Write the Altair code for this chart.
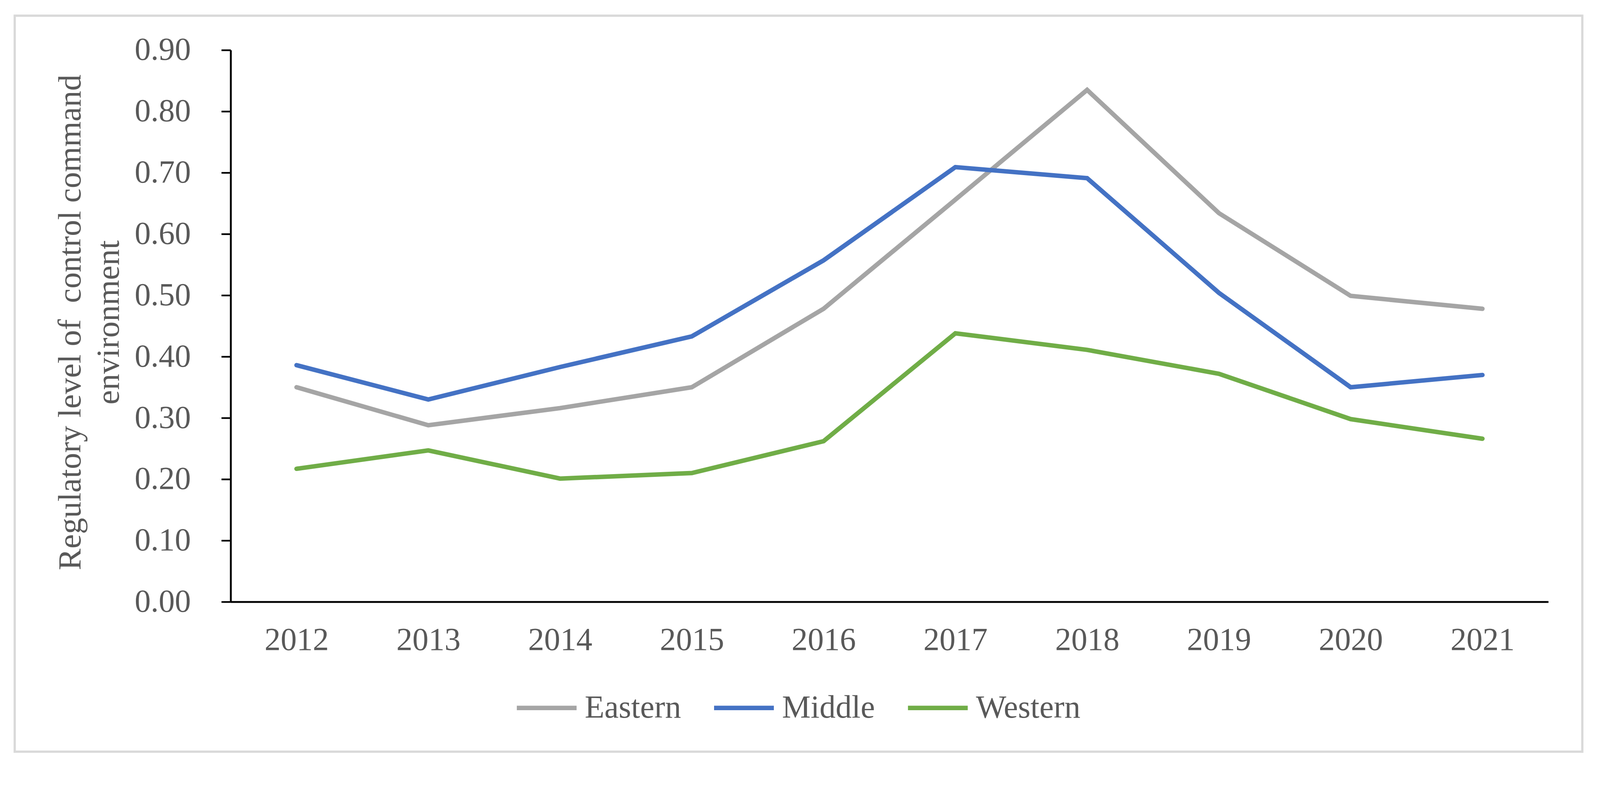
import altair as alt
import pandas as pd

# ---- data ----
years = ["2012", "2013", "2014", "2015", "2016", "2017", "2018", "2019", "2020", "2021"]
series = ["Eastern", "Middle", "Western"]
eastern = [0.350, 0.288, 0.316, 0.350, 0.478, 0.656, 0.835, 0.634, 0.499, 0.478]
middle = [0.386, 0.330, 0.383, 0.433, 0.557, 0.709, 0.691, 0.504, 0.350, 0.370]
western = [0.217, 0.247, 0.201, 0.210, 0.262, 0.438, 0.411, 0.372, 0.298, 0.266]
colors = ["#A5A5A5", "#4472C4", "#70AD47"]
y_ticks = [0.0, 0.1, 0.2, 0.3, 0.4, 0.5, 0.6, 0.7, 0.8, 0.9]
y_title = ["Regulatory level of \u00a0control command", "environment"]

rows = []
for name, vals in zip(series, [eastern, middle, western]):
    for yr, v in zip(years, vals):
        rows.append({"Year": yr, "Region": name, "Value": v})
df = pd.DataFrame(rows)

FONT = "Liberation Serif"
TXT = "#595959"
FS = 86
W, H = 3527, 1476

frame = alt.Chart(pd.DataFrame({"k": [0]})).mark_rect(
    fillOpacity=0, stroke="#D9D9D9", strokeWidth=6
).encode(
    x=alt.value(-578), x2=alt.value(3618), y=alt.value(-92), y2=alt.value(1877)
)

lines = alt.Chart(df).mark_line(strokeWidth=12, strokeCap="round", strokeJoin="miter").encode(
    x=alt.X(
        "Year:O",
        sort=years,
        scale=alt.Scale(type="point", padding=0.5),
        axis=alt.Axis(title=None, ticks=False, labelPadding=60, labelAngle=0),
    ),
    y=alt.Y(
        "Value:Q",
        scale=alt.Scale(domain=[0, 0.9], nice=False, zero=True),
        axis=alt.Axis(
            values=y_ticks,
            format=".2f",
            tickSize=25,
            labelPadding=82,
            title=y_title,
            titleX=-402,
            titleY=H / 2 - 10,
            titleAngle=270,
            titleAlign="center",
            titleBaseline="alphabetic",
            titleFont=FONT,
            titleFontSize=87,
            titleFontWeight="normal",
            titleColor=TXT,
            titleLineHeight=102,
        ),
    ),
    color=alt.Color(
        "Region:N",
        scale=alt.Scale(domain=series, range=colors),
        legend=alt.Legend(
            title=None,
            orient="none",
            legendX=760,
            legendY=1674,
            direction="horizontal",
            symbolType="stroke",
            symbolSize=25600,
            symbolStrokeWidth=12,
            labelFont=FONT,
            labelFontSize=FS,
            labelColor=TXT,
            labelOffset=16,
            labelLimit=0,
            columnPadding=64,
            padding=0,
        ),
    ),
)

chart = alt.layer(frame, lines).properties(
    width=W,
    height=H,
    autosize=alt.AutoSizeParams(type="none"),
    padding={"left": 609, "top": 81, "right": 130, "bottom": 397},
    background="white",
).configure_view(stroke=None).configure_axis(
    labelFont=FONT,
    labelFontSize=FS,
    labelColor=TXT,
    domainColor="black",
    domainWidth=5,
    tickColor="black",
    tickWidth=4.5,
    grid=False,
)

chart.save("out.html", embed_options={"renderer": "svg", "actions": False})
